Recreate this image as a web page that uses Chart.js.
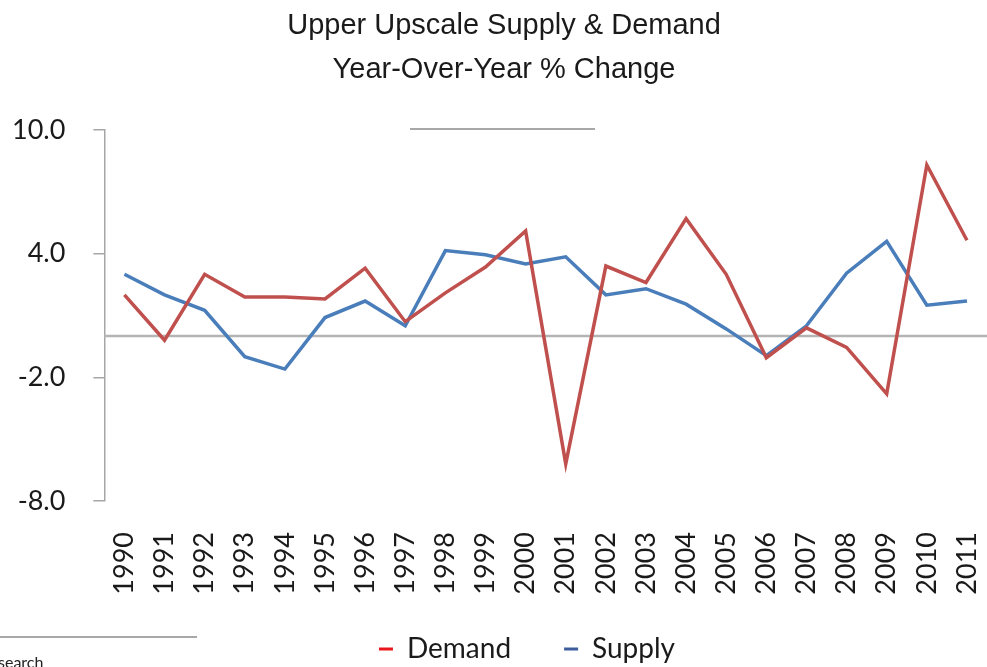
<!DOCTYPE html>
<html><head><meta charset="utf-8">
<script src="https://cdn.jsdelivr.net/npm/chart.js@4.4.0/dist/chart.umd.min.js"></script>
<style>html,body{margin:0;padding:0;background:#fff;}#wrap{width:987px;height:667px;position:relative;}</style>
</head><body><div id="wrap"><canvas id="c" width="987" height="667"></canvas></div>
<script>
const titleLines = ['Upper Upscale Supply & Demand', 'Year-Over-Year % Change'];
const years = ['1990','1991','1992','1993','1994','1995','1996','1997','1998','1999','2000','2001','2002','2003','2004','2005','2006','2007','2008','2009','2010','2011'];
const demand = [2.0, -0.2, 3.0, 1.9, 1.9, 1.8, 3.3, 0.7, 2.1, 3.35, 5.1, -6.2, 3.4, 2.6, 5.7, 3.0, -1.05, 0.4, -0.55, -2.8, 8.3, 4.65];
const supply = [3.0, 2.0, 1.25, -1.0, -1.6, 0.9, 1.7, 0.5, 4.15, 3.95, 3.5, 3.85, 2.0, 2.3, 1.55, 0.35, -0.95, 0.5, 3.05, 4.6, 1.5, 1.7];
const yTicks = [-8, -2, 4, 10];
const seriesNames = ['Demand', 'Supply'];
const footText = 'search';

const PLOT_BOTTOM = 501;
const LEGEND_H = 38;
const LEGEND_CY = 649;
const LEGEND_SHIFT_X = 40;
const TITLE_SHIFT_X = 17;

const decor = {
  id: 'decor',
  beforeLayout(chart) {
    const lg = chart.legend;
    if (lg && !lg._fixedFit) {
      const origFit = lg.fit.bind(lg);
      lg.fit = function () { origFit(); this.height = LEGEND_H; };
      lg._fixedFit = true;
    }
  },
  afterLayout(chart) {
    const lg = chart.legend;
    const pad = lg.options.labels.padding;
    const fs = lg.options.labels.font.size;
    lg.top = LEGEND_CY - pad - fs / 2;
    lg.bottom = chart.height;
    lg.height = lg.bottom - lg.top;
    lg.left += LEGEND_SHIFT_X; lg.right += LEGEND_SHIFT_X;
    const tb = chart.titleBlock;
    if (tb) { tb.left += TITLE_SHIFT_X; tb.right += TITLE_SHIFT_X; }
  },
  beforeDatasetsDraw(chart) {
    const {ctx, chartArea, scales} = chart;
    const py = scales.y.getPixelForValue(0);
    ctx.save();
    ctx.strokeStyle = '#b4b4b4';
    ctx.lineWidth = 2.5;
    ctx.beginPath();
    ctx.moveTo(chartArea.left, py);
    ctx.lineTo(chart.width, py);
    ctx.stroke();
    ctx.restore();
  },
  afterDraw(chart) {
    const {ctx} = chart;
    ctx.save();
    ctx.strokeStyle = '#a8a8a8';
    ctx.lineWidth = 2;
    ctx.beginPath(); ctx.moveTo(410, 129); ctx.lineTo(595, 129); ctx.stroke();
    ctx.beginPath(); ctx.moveTo(0, 637); ctx.lineTo(197, 637); ctx.stroke();
    ctx.fillStyle = '#222';
    ctx.font = '16px Lato';
    ctx.textBaseline = 'alphabetic';
    ctx.fillText(footText, -2, 668);
    ctx.restore();
  }
};

new Chart(document.getElementById('c'), {
  type: 'line',
  data: {
    labels: years,
    datasets: [
      {label: seriesNames[0], data: demand, borderColor: '#c0504d', backgroundColor: '#e8161b', borderWidth: 3.5, pointRadius: 0, tension: 0},
      {label: seriesNames[1], data: supply, borderColor: '#4a7ebb', backgroundColor: '#3c5c9c', borderWidth: 3.5, pointRadius: 0, tension: 0}
    ]
  },
  options: {
    responsive: false,
    animation: false,
    layout: {padding: {left: -16, right: -3, top: 0, bottom: 0}},
    plugins: {
      tooltip: {enabled: false},
      title: {
        display: true,
        text: titleLines,
        color: '#1a1a1a',
        font: {family: 'Liberation Sans', size: 29, weight: 'normal', lineHeight: 44 / 29},
        padding: {top: 4, bottom: 38}
      },
      legend: {
        position: 'bottom',
        labels: {
          font: {family: 'Lato', size: 28},
          color: '#1a1a1a',
          padding: 53,
          boxWidth: 14,
          boxHeight: 3,
          generateLabels(chart) {
            return chart.data.datasets.map((ds, i) => ({
              text: ds.label,
              fillStyle: ds.backgroundColor,
              strokeStyle: ds.backgroundColor,
              lineWidth: 0,
              hidden: false,
              datasetIndex: i,
              fontColor: '#1a1a1a'
            }));
          }
        }
      }
    },
    scales: {
      x: {
        type: 'category',
        offset: true,
        grid: {display: false, drawTicks: true, tickLength: 31},
        border: {display: false},
        ticks: {
          autoSkip: false, minRotation: 90, maxRotation: 90, padding: 0,
          color: '#1a1a1a', font: {family: 'Lato', size: 27}
        },
        afterFit(scale) {
          scale.height = scale.chart.height - scale.chart.legend.height - PLOT_BOTTOM;
          scale.paddingLeft = 0;
          scale.paddingRight = 0;
        }
      },
      y: {
        min: -8, max: 10,
        afterBuildTicks(scale) { scale.ticks = yTicks.map(v => ({value: v})); },
        grid: {display: true, drawOnChartArea: false, drawTicks: true, tickLength: 11, tickColor: '#a6a6a6', lineWidth: 1.5},
        border: {display: true, color: '#a6a6a6', width: 1.5},
        ticks: {
          padding: 28, color: '#1a1a1a', font: {family: 'Lato', size: 27},
          callback: v => Number(v).toFixed(1)
        }
      }
    }
  },
  plugins: [decor]
});
</script></body></html>
